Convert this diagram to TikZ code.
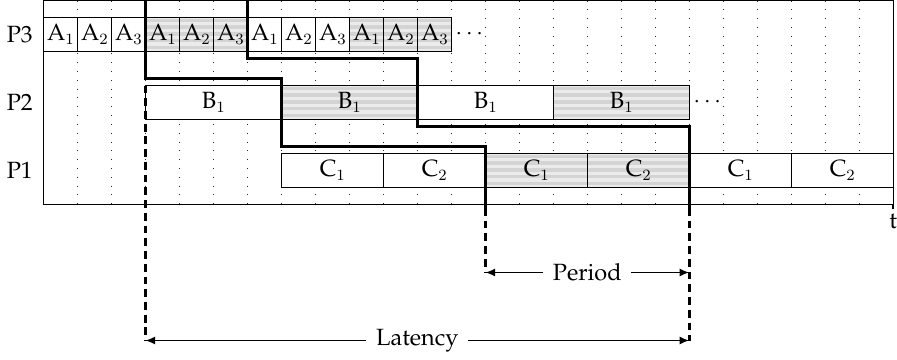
\documentclass[tikz,border=0pt]{standalone}
\usepackage[T1]{fontenc}
\renewcommand{\rmdefault}{ppl}
\usetikzlibrary{arrows.meta}
\tikzset{
  cell/.style={draw=black, line width=0.5pt, fill=white, minimum height=0.61cm, inner sep=0pt, anchor=west},
  striped/.style={cell, fill=black!8, path picture={
      \foreach \k in {0,...,4}{
        \fill[black!17] ([yshift=-\k*0.122cm-0.02cm]path picture bounding box.north west)
          rectangle ([yshift=-\k*0.122cm-0.08cm]path picture bounding box.north east);}}},
  cs0/.style={cell}, cs1/.style={striped},
  crit/.style={line width=1.5pt, line join=miter},
  guide/.style={line width=1.4pt, dash pattern=on 4pt off 2.5pt},
  dim/.style={line width=1pt, {Latex[length=5pt,width=4.2pt]}-{Latex[length=5pt,width=4.2pt]}},
  gridline/.style={line width=0.6pt, dash pattern=on 0.5pt off 4pt, black!85},
  plabel/.style={anchor=east, inner sep=0pt},
  dimlabel/.style={fill=white, inner xsep=5pt, inner ysep=1pt},
}
\begin{document}
\begin{tikzpicture}[x=0.61cm, y=0.61cm, font=\fontsize{12}{14}\selectfont]
\useasboundingbox (-1.274,0.015) rectangle (25.109,-10.573);
% grid
\foreach \x in {1,...,24} \draw[gridline] (\x,0) -- (\x,-6);
% frame
\draw[line width=0.7pt] (0,0) rectangle (25,-6);
% P3 row
\foreach \i in {0,...,11} {
  \pgfmathtruncatemacro\j{mod(\i,3)+1}
  \pgfmathtruncatemacro\g{mod(floor(\i/3),2)}
  \node[cs\g, minimum width=0.61cm] (a\i) at (\i,-1) {A$_{\j}$};
}
% P2 row
\foreach \i/\g in {0/0,1/1,2/0,3/1}
  \node[cs\g, minimum width=2.44cm] (b\i) at ({3+4*\i},-3) {B$_1$};
% P1 row
\foreach \i/\g/\j in {0/0/1,1/0/2,2/1/1,3/1/2,4/0/1,5/0/2}
  \node[cs\g, minimum width=1.83cm] (c\i) at ({7+3*\i},-5) {C$_\j$};
% labels
\node[plabel] (p3) at (-0.3,-1) {P3};
\node[plabel] (p2) at (-0.3,-3) {P2};
\node[plabel] (p1) at (-0.3,-5) {P1};
\node[anchor=west, inner sep=2pt] (d3) at (12,-1) {$\cdots$};
\node[anchor=west, inner sep=2pt] (d2) at (19,-3) {$\cdots$};
% time axis tick and label
\draw[line width=1.2pt] (25,-6) -- (25,-6.12);
\node[anchor=north, inner sep=1pt] (t) at (25,-6.22) {t};
% critical paths
\draw[crit] (3,0) -- (3,-2.3) -- (7,-2.3) -- (7,-4.3) -- (13,-4.3) -- (13,-6.1);
\draw[crit] (6,0) -- (6,-1.7) -- (11,-1.7) -- (11,-3.7) -- (19,-3.7) -- (19,-6.1);
\draw[guide] (13,-6.1) -- (13,-8);
\draw[guide] (19,-6.1) -- (19,-10);
\draw[guide] (3,-2.5) -- (3,-10);
% dimension arrows
\coordinate (pl) at (13,-8);
\coordinate (pr) at (19,-8);
\coordinate (ll) at (3,-10);
\coordinate (lr) at (19,-10);
\draw[dim] (pl) -- (pr) node[midway, dimlabel] (period) {Period};
\draw[dim] (ll) -- (lr) node[midway, dimlabel] (latency) {Latency};
\end{tikzpicture}
\end{document}
